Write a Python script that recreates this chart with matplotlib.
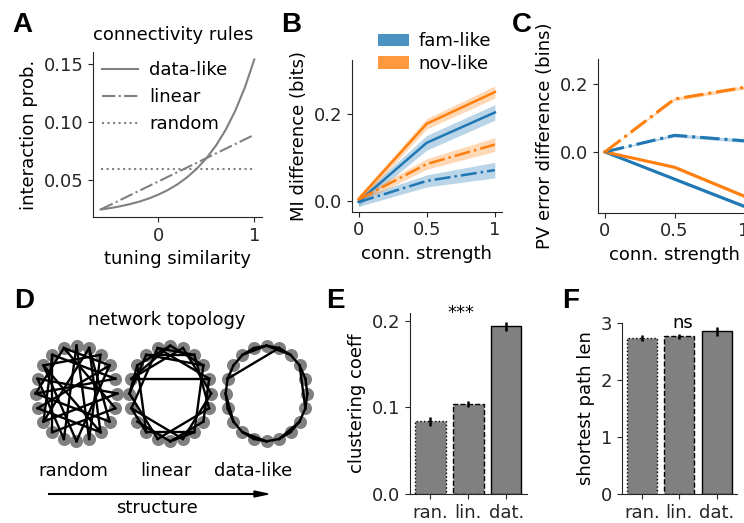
import numpy as np
import matplotlib.pyplot as plt
from matplotlib.patches import Patch

plt.rcParams['font.family'] = 'DejaVu Sans'
plt.rcParams['font.size'] = 13
plt.rcParams['axes.edgecolor'] = '.15'
plt.rcParams['xtick.color'] = '.15'
plt.rcParams['ytick.color'] = '.15'
plt.rcParams['axes.spines.top'] = False
plt.rcParams['axes.spines.right'] = False

# A: connectivity rules
sim_x = [-0.6, -0.5, -0.4, -0.3, -0.2, -0.1, 0.0, 0.1, 0.2, 0.3, 0.4, 0.5, 0.6, 0.7, 0.8, 0.9, 1.0]
p_data = [0.025, 0.0262, 0.0277, 0.0295, 0.0317, 0.0344, 0.0377, 0.0417, 0.0466,
          0.0526, 0.0599, 0.0688, 0.0797, 0.093, 0.1093, 0.1292, 0.1535]
lin_x = [-0.6, 1.0]
p_lin = [0.025, 0.089]
p_rand = [0.06, 0.06]

# B / C: effect of connection strength
strength = [0, 0.5, 1]
mi_fam_data = [-0.002, 0.134, 0.204]
mi_fam_data_err = [0.010, 0.017, 0.018]
mi_nov_data = [0.004, 0.178, 0.251]
mi_nov_data_err = [0.008, 0.012, 0.014]
mi_fam_lin = [-0.003, 0.046, 0.071]
mi_fam_lin_err = [0.010, 0.014, 0.018]
mi_nov_lin = [0.003, 0.085, 0.130]
mi_nov_lin_err = [0.008, 0.012, 0.016]

pv_fam_data = [0, -0.080, -0.160]
pv_nov_data = [0, -0.045, -0.130]
pv_fam_lin = [0, 0.049, 0.033]
pv_nov_lin = [0, 0.156, 0.190]
pv_err = [0, 0.005, 0.005]

# D: example networks (20 nodes, index 0 at top, counter-clockwise)
n_nodes = 20
random_edges = [(0, 11), (0, 9), (1, 14), (2, 7), (2, 16), (3, 12), (3, 18), (4, 9),
                (4, 15), (5, 13), (5, 1), (6, 17), (6, 12), (7, 19), (8, 14), (8, 2),
                (10, 17), (10, 3), (11, 18), (13, 19), (15, 7), (16, 5), (17, 1), (12, 19)]
linear_edges = [(0, 3), (0, 17), (1, 6), (2, 5), (3, 8), (4, 16), (5, 9), (6, 11),
                (7, 10), (8, 12), (9, 14), (10, 13), (11, 15), (12, 17), (13, 16), (14, 18),
                (15, 19), (16, 1), (18, 2), (19, 4), (3, 5), (6, 8), (10, 12), (1, 18),
                (0, 4), (17, 2)]
data_edges = [(0, 1), (1, 2), (2, 3), (3, 4), (4, 5), (5, 6), (6, 7), (7, 8), (8, 9),
              (9, 10), (10, 11), (11, 12), (12, 13), (13, 14), (14, 15), (15, 16),
              (16, 17), (17, 18), (18, 19), (19, 0), (4, 19), (14, 17), (0, 2), (8, 10),
              (18, 0), (5, 7), (11, 13)]

# E / F: graph measures
rules = ['ran.', 'lin.', 'dat.']
clust = [0.084, 0.104, 0.194]
clust_err = [0.005, 0.004, 0.005]
path_len = [2.74, 2.77, 2.86]
path_err = [0.05, 0.04, 0.08]

W, H = 744, 523
fig = plt.figure(figsize=(W / 100, H / 100), dpi=100)


def px_axes(left, top, right, bottom):
    return fig.add_axes([left / W, 1 - bottom / H, (right - left) / W, (bottom - top) / H])


def letter(s, x, y):
    fig.text(x / W, 1 - y / H, s, fontsize=20, fontweight='bold', family='Liberation Sans',
             va='top', ha='left')


gray = '#808080'
blue = '#1f77b4'
orange = '#ff7f0e'

# ---- A
axA = px_axes(93, 52, 262, 217)
axA.plot(sim_x, p_data, color=gray, lw=1.5, label='data-like')
axA.plot(lin_x, p_lin, color=gray, lw=1.5, ls='-.', label='linear')
axA.plot(lin_x, p_rand, color=gray, lw=1.5, ls=':', label='random')
axA.set_xticks([0, 1])
axA.set_yticks([0.05, 0.10, 0.15])
axA.set_xlabel('tuning similarity')
axA.set_ylabel('interaction prob.')
axA.legend(loc='upper left', frameon=False, handlelength=2.0, handletextpad=0.6,
           borderaxespad=0.1)
fig.text(173 / W, 1 - 35 / H, 'connectivity rules', ha='center', va='center')

# ---- B
axB = px_axes(351.7, 60, 501.7, 211.7)
for y, e, c, ls in [(mi_fam_data, mi_fam_data_err, blue, '-'),
                    (mi_nov_data, mi_nov_data_err, orange, '-'),
                    (mi_fam_lin, mi_fam_lin_err, blue, '-.'),
                    (mi_nov_lin, mi_nov_lin_err, orange, '-.')]:
    y = np.array(y)
    e = np.array(e)
    axB.fill_between(strength, y - e, y + e, color=c, alpha=0.3, lw=0)
    axB.plot(strength, y, color=c, ls=ls, lw=1.8)
axB.set_xlim(-0.05, 1.05)
axB.set_ylim(-0.025, 0.325)
axB.set_xticks([0, 0.5, 1])
axB.set_xticklabels(['0', '0.5', '1'])
axB.set_yticks([0.0, 0.2])
axB.set_xlabel('conn. strength')
axB.set_ylabel('MI difference (bits)')
handles = [Patch(facecolor=blue, alpha=0.8), Patch(facecolor=orange, alpha=0.8)]
axB.legend(handles, ['fam-like', 'nov-like'], loc='upper left', frameon=False,
           bbox_to_anchor=(0.067, 1.29), handlelength=1.7, handletextpad=0.55,
           labelspacing=0.25)

# ---- C
axC = px_axes(598, 59.3, 751, 212.7)
for y, c, ls in [(pv_fam_data, blue, '-'), (pv_nov_data, orange, '-'),
                 (pv_fam_lin, blue, '-.'), (pv_nov_lin, orange, '-.')]:
    y = np.array(y)
    e = np.array(pv_err)
    axC.fill_between(strength, y - e, y + e, color=c, alpha=0.3, lw=0)
    axC.plot(strength, y, color=c, ls=ls, lw=2.2)
axC.set_xlim(-0.05, 1.05)
axC.set_ylim(-0.179, 0.273)
axC.set_xticks([0, 0.5, 1])
axC.set_xticklabels(['0', '0.5', '1'])
axC.set_yticks([0.0, 0.2])
axC.set_xlabel('conn. strength')
axC.set_ylabel('PV error difference (bins)')

# ---- D
ang = np.deg2rad(90 + 360 / n_nodes * np.arange(n_nodes))
nx_, ny_ = np.cos(ang), np.sin(ang)
for cx, edges in [(76.5, random_edges), (170.3, linear_edges), (266.5, data_edges)]:
    ax = px_axes(cx - 47, 393.5 - 55, cx + 47, 393.5 + 55)
    ax.scatter(nx_, ny_, s=88, color=gray, zorder=1, lw=0)
    for i, j in edges:
        ax.plot([nx_[i], nx_[j]], [ny_[i], ny_[j]], color='k', lw=1.7, zorder=2)
    ax.set_xlim(-1.15, 1.15)
    ax.set_ylim(-1.15, 1.15)
    ax.axis('off')
fig.text(167 / W, 1 - 320 / H, 'network topology', ha='center', va='center')
for s, x in [('random', 73), ('linear', 166), ('data-like', 253)]:
    fig.text(x / W, 1 - 471 / H, s, ha='center', va='center')
fig.text(157 / W, 1 - 508 / H, 'structure', ha='center', va='center')
fig.add_artist(plt.Line2D([49 / W, 262 / W], [1 - 494 / H, 1 - 494 / H], color='k', lw=1.5))
fig.patches.append(plt.Polygon([[268 / W, 1 - 494 / H], [254 / W, 1 - 491 / H], [254 / W, 1 - 497 / H]],
                               closed=True, color='k', transform=fig.transFigure, figure=fig))

# ---- E / F
styles = [':', '--', '-']
for left, top, right, vals, errs, ylab, star, sx, yl, yt in [
        (410, 313.3, 526.7, clust, clust_err, 'clustering coeff', '***', 0.8, 0.2089, [0.0, 0.1, 0.2]),
        (621.7, 322.7, 737, path_len, path_err, 'shortest path len', 'ns', 1.1, 3.01, [0, 1, 2, 3])]:
    ax = px_axes(left, top, right, 494)
    bars = ax.bar(range(3), vals, width=0.8, color=gray, edgecolor='k', lw=1)
    for b, ls in zip(bars, styles):
        b.set_linestyle(ls)
    ax.errorbar(range(3), vals, yerr=errs, fmt='none', ecolor='k', elinewidth=1.8, capsize=0)
    ax.set_xticks(range(3))
    ax.set_xticklabels(rules)
    ax.set_ylim(0, yl)
    ax.set_yticks(yt)
    ax.set_ylabel(ylab)
    ax.text(sx, yl, star, ha='center', va='center', fontsize=13)

letter('A', 12, 12)
letter('B', 281, 12)
letter('C', 512, 12)
letter('D', 14, 288)
letter('E', 326, 288)
letter('F', 562, 288)

fig.savefig('out.png', dpi=100)
